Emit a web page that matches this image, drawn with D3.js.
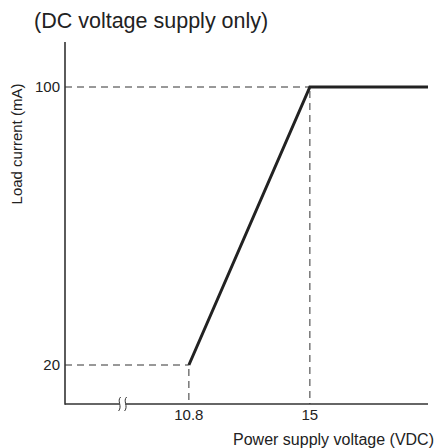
<!DOCTYPE html>
<html>
<head>
<meta charset="utf-8">
<script src="https://cdn.jsdelivr.net/npm/d3@7"></script>
<style>
body { margin: 0; background: #fff; }
text { font-family: "Liberation Sans", Arial, sans-serif; fill: #222; }
</style>
</head>
<body>
<div id="chart"></div>
<script>
// values
var voltage = [10.8, 15, 19.1];
var current = [20, 100, 100];
var xTicks = [10.8, 15];
var yTicks = [20, 100];
var xBreakAt = 8.5;

var width = 435, height = 448;

var x = d3.scaleLinear().domain([6.5, 19.1]).range([65, 428]);
var y = d3.scaleLinear().domain([20, 100]).range([365, 87]);
var axisY = 404, axisTop = 42;

var svg = d3.select("#chart").append("svg")
    .attr("width", width)
    .attr("height", height);

svg.append("text")
    .attr("x", 34).attr("y", 28)
    .style("font-size", "21.5px")
    .text("(DC voltage supply only)");

// guide lines
var dash = svg.append("g")
    .attr("stroke", "#333")
    .attr("stroke-width", 1)
    .attr("stroke-dasharray", "7,5")
    .attr("fill", "none");

var pts = voltage.map(function(v, i){ return [v, current[i]]; });
pts.slice(0, 2).forEach(function(p){
    dash.append("line")
        .attr("x1", x.range()[0]).attr("x2", x(p[0]))
        .attr("y1", y(p[1])).attr("y2", y(p[1]));
    dash.append("line")
        .attr("x1", x(p[0])).attr("x2", x(p[0]))
        .attr("y1", y(p[1]) + 4).attr("y2", axisY);
});

// axes
var ax = svg.append("g").attr("stroke", "#333").attr("stroke-width", 1.6).attr("fill", "none");
ax.append("line")
    .attr("x1", x.range()[0]).attr("x2", x.range()[0])
    .attr("y1", axisTop).attr("y2", axisY + 0.8);
ax.append("line")
    .attr("x1", x.range()[0]).attr("x2", x.range()[1])
    .attr("y1", axisY).attr("y2", axisY);

// axis break
var bx = x(xBreakAt);
svg.append("rect")
    .attr("x", bx - 3).attr("y", axisY - 3)
    .attr("width", 6).attr("height", 6)
    .attr("fill", "#fff");
[-3, 3].forEach(function(o){
    svg.append("path")
        .attr("d", "M" + (bx + o + 1) + "," + (axisY - 7) +
            " C" + (bx + o - 3) + "," + (axisY - 3) + " " + (bx + o + 3) + "," + (axisY + 2) + " " + (bx + o - 1) + "," + (axisY + 7))
        .attr("stroke", "#333").attr("stroke-width", 1).attr("fill", "none");
});

// tick labels
svg.selectAll(".ylab").data(yTicks).enter().append("text")
    .attr("x", 60).attr("y", function(d){ return y(d) + 5; })
    .attr("text-anchor", "end")
    .style("font-size", "15px")
    .text(function(d){ return d; });

svg.selectAll(".xlab").data(xTicks).enter().append("text")
    .attr("x", function(d){ return x(d); }).attr("y", 420)
    .attr("text-anchor", "middle")
    .style("font-size", "15px")
    .text(function(d){ return d; });

// axis titles
svg.append("text")
    .attr("transform", "translate(22,144) rotate(-90)")
    .attr("text-anchor", "middle")
    .style("font-size", "15px")
    .text("Load current (mA)");

svg.append("text")
    .attr("x", 434).attr("y", 445)
    .attr("text-anchor", "end")
    .style("font-size", "16px")
    .text("Power supply voltage (VDC)");

// characteristic line
var line = d3.line()
    .x(function(d){ return x(d[0]); })
    .y(function(d){ return y(d[1]); });

svg.append("path")
    .datum(pts)
    .attr("d", line)
    .attr("fill", "none")
    .attr("stroke", "#222")
    .attr("stroke-width", 3);
</script>
</body>
</html>
